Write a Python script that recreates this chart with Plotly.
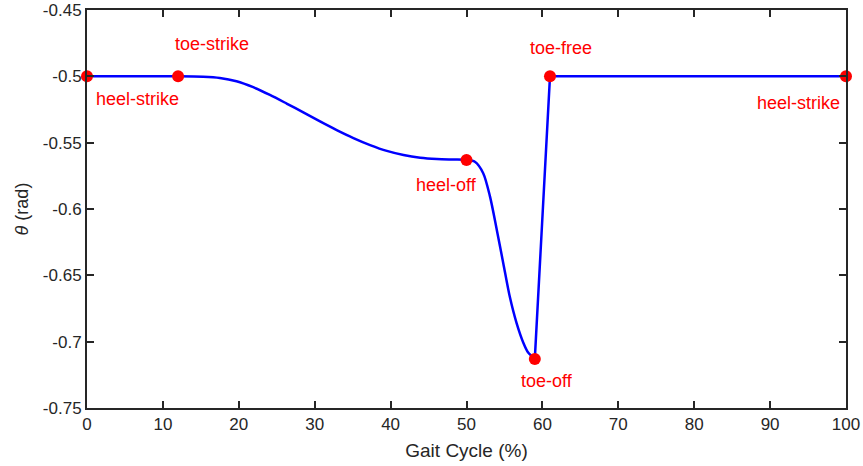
import plotly.graph_objects as go

# Smooth part of the curve (Gait cycle %, theta rad), toe-strike -> toe-off
smooth_x = [12, 15.3, 17.5, 19.7, 21.9, 24.1, 26.3, 28.5, 30.7, 32.9, 35.1, 37.3, 39.5, 41.7, 43.9, 46.1, 48.2, 50,
            51.1, 52.2, 53.1, 54.0, 54.85, 55.7, 56.6, 57.5, 58.1, 59]
smooth_y = [-0.5, -0.5003, -0.5012, -0.5037, -0.5082, -0.5140, -0.5205, -0.5272, -0.5340, -0.5405, -0.5465,
            -0.5518, -0.5562, -0.5593, -0.5613, -0.5623, -0.5627, -0.563,
            -0.5644, -0.573, -0.5907, -0.616, -0.641, -0.666, -0.686, -0.701, -0.708, -0.713]
# Straight parts of the curve
flat1_x = [0, 12]
flat1_y = [-0.5, -0.5]
rise_x = [59, 61, 100]
rise_y = [-0.713, -0.5, -0.5]

# Event markers
event_x = [0, 12, 50, 59, 61, 100]
event_y = [-0.5, -0.5, -0.563, -0.713, -0.5, -0.5]
event_names = ["heel-strike", "toe-strike", "heel-off", "toe-off", "toe-free", "heel-strike"]
label_x = [6.6, 16.5, 47.3, 60.6, 62.5, 93.8]
label_y = [-0.517, -0.4756, -0.582, -0.7297, -0.4787, -0.520]

x_ticks = [0, 10, 20, 30, 40, 50, 60, 70, 80, 90, 100]
y_ticks = [-0.75, -0.7, -0.65, -0.6, -0.55, -0.5, -0.45]
y_ticktext = ["-0.75", "-0.7", "-0.65", "-0.6", "-0.55", "-0.5", "-0.45"]

FONT = "Liberation Sans, Arial, Helvetica, sans-serif"
AX = "#262626"
LINE = dict(color="#0000ff", width=2.5)

fig = go.Figure()
fig.add_trace(go.Scatter(x=flat1_x, y=flat1_y, mode="lines", line=LINE,
                         showlegend=False, hoverinfo="skip"))
fig.add_trace(go.Scatter(x=smooth_x, y=smooth_y, mode="lines",
                         line=dict(shape="spline", smoothing=0.8, **LINE),
                         showlegend=False, hoverinfo="skip"))
fig.add_trace(go.Scatter(x=rise_x, y=rise_y, mode="lines", line=LINE,
                         showlegend=False, hoverinfo="skip"))
fig.add_trace(go.Scatter(x=event_x, y=event_y, mode="markers",
                         marker=dict(color="#ff0000", size=12),
                         showlegend=False, cliponaxis=False))

for nm, lx, ly in zip(event_names, label_x, label_y):
    fig.add_annotation(x=lx, y=ly, text=nm, showarrow=False,
                       font=dict(family=FONT, size=18, color="#ff0000"),
                       xanchor="center", yanchor="middle")

axis_common = dict(showline=True, linecolor=AX, linewidth=2, mirror="ticks",
                   ticks="inside", ticklen=7, tickwidth=1.5, tickcolor=AX,
                   showgrid=False, zeroline=False, automargin=False,
                   tickfont=dict(family=FONT, size=17, color=AX))

fig.update_xaxes(range=[0, 100], tickvals=x_ticks,
                 title=dict(text="Gait Cycle (%)", font=dict(family=FONT, size=19, color=AX), standoff=10),
                 **axis_common)
fig.update_yaxes(range=[-0.75, -0.45], tickvals=y_ticks, ticktext=y_ticktext,
                 title=dict(text="<i>θ</i> (rad)", font=dict(family=FONT, size=18, color=AX), standoff=10),
                 **axis_common)

fig.update_layout(width=863, height=466, margin=dict(l=87, r=17, t=10, b=58),
                  plot_bgcolor="white", paper_bgcolor="white",
                  font=dict(family=FONT))

fig.write_html("out.html", config={"displayModeBar": False},
               post_script="document.body.style.margin='0px';")
